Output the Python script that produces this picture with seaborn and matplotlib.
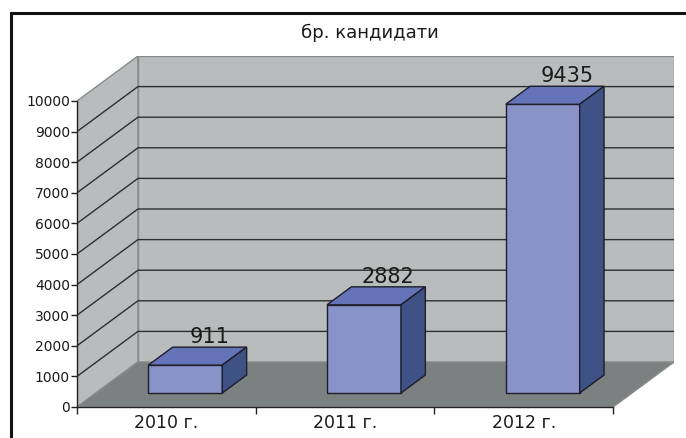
import matplotlib
matplotlib.use("Agg")
import matplotlib.pyplot as plt
import seaborn as sns
import pandas as pd
from matplotlib.patches import Polygon, Rectangle

# ---- data ----
categories = ["2010 г.", "2011 г.", "2012 г."]
values = [911, 2882, 9435]
title = "бр. кандидати"
yticks = list(range(0, 10001, 1000))
ymax = 10000

sns.set_theme(style="white")
plt.rcParams['font.family'] = ['DejaVu Sans']

W, H = 686, 438
fig = plt.figure(figsize=(W / 100, H / 100), dpi=100)
fig.patch.set_facecolor('white')

# pseudo-3D geometry (depth offsets in data units)
DX = 0.341    # floor depth, category units
DY = 1470     # floor depth, value units
F0 = 0.311    # depth fraction of bar front face
FB = 0.40     # bar depth fraction
BW = 0.414    # bar width

WALL = '#B9BCBC'
FLOOR = '#7B8181'
EDGE = '#8A8A8A'
GRID = '#2e2e2e'
FRONT = '#8A93C9'
TOP = '#6574B9'
SIDE = '#3F5285'
BEDGE = '#1e1e2a'

ax = fig.add_axes([77 / W, 31 / H, 597 / W, 351 / H])
df = pd.DataFrame({"cat": categories, "val": values})
sns.barplot(data=df, x="cat", y="val", ax=ax, width=BW, color=FRONT,
            saturation=1, edgecolor=BEDGE, linewidth=1.0, zorder=5)
bars = list(ax.patches)
ax.set_xlim(-0.5, len(categories) - 0.5 + DX)
ax.set_ylim(0, ymax + DY)
ax.set_facecolor('none')

x0, x1 = -0.5, len(categories) - 0.5
# walls and floor
ax.add_patch(Polygon([(x0 + DX, DY), (x1 + DX, DY), (x1 + DX, ymax + DY), (x0 + DX, ymax + DY)],
                     closed=True, fc=WALL, ec=EDGE, lw=1.0, zorder=0.5))
ax.add_patch(Polygon([(x0, 0), (x0 + DX, DY), (x0 + DX, ymax + DY), (x0, ymax)],
                     closed=True, fc=WALL, ec=EDGE, lw=1.0, zorder=0.5))
ax.add_patch(Polygon([(x0, 0), (x1, 0), (x1 + DX, DY), (x0 + DX, DY)],
                     closed=True, fc=FLOOR, ec=EDGE, lw=1.0, zorder=1.5))
# gridlines
for v in yticks[1:-1]:
    ax.plot([x0, x0 + DX, x1 + DX], [v, v + DY, v + DY], color=GRID, lw=1.0, zorder=1)

# bars -> 3D boxes
for p, val in zip(bars, values):
    bx = p.get_x() + F0 * DX
    by = F0 * DY
    w = p.get_width()
    h = p.get_height()
    p.set_x(bx)
    p.set_y(by)
    ddx, ddy = FB * DX, FB * DY
    ax.add_patch(Polygon([(bx, by + h), (bx + w, by + h), (bx + w + ddx, by + h + ddy), (bx + ddx, by + h + ddy)],
                         closed=True, fc=TOP, ec=BEDGE, lw=1.0, zorder=5))
    ax.add_patch(Polygon([(bx + w, by), (bx + w + ddx, by + ddy), (bx + w + ddx, by + h + ddy), (bx + w, by + h)],
                         closed=True, fc=SIDE, ec=BEDGE, lw=1.0, zorder=5))
    ax.annotate(f"{val}", (bx + w / 2 + ddx, by + h + ddy), xytext=(0, 3),
                textcoords='offset points', ha='center', va='baseline',
                fontsize=15, color='#1a1a1a', zorder=6)

# axes decoration
for s in ['top', 'right']:
    ax.spines[s].set_visible(False)
ax.spines['left'].set_bounds(0, ymax)
ax.spines['bottom'].set_bounds(x0, x1)
for s in ['left', 'bottom']:
    ax.spines[s].set_color('#222222')
    ax.spines[s].set_linewidth(1.0)
    ax.spines[s].set_zorder(2)
ax.set_yticks(yticks)
ax.set_yticklabels([str(t) for t in yticks])
ax.tick_params(axis='y', direction='out', length=4, width=1, color='#222222',
               pad=1, labelsize=10, labelcolor='#1a1a1a', left=True)
ax.set_xticks(range(len(categories)))
ax.set_xticklabels(categories)
ax.set_xticks([x0 + i for i in range(len(categories) + 1)], minor=True)
ax.tick_params(axis='x', which='major', length=0, pad=5, labelsize=12.5, labelcolor='#1a1a1a')
ax.tick_params(axis='x', which='minor', direction='out', length=5, width=1, color='#222222', bottom=True)
ax.set_xlabel('')
ax.set_ylabel('')
ax.grid(False)

# outer frame and title
fig.patches.append(Rectangle((10.5 / W, -0.1), 1.2, (H - 12.5) / H + 0.1, transform=fig.transFigure,
                             fill=False, ec='#111111', lw=2.2, zorder=10))
fig.text(370 / W, 1 - 38 / H, title, ha='center', va='baseline', fontsize=13, color='#1a1a1a')

fig.savefig('out.png', dpi=100)
